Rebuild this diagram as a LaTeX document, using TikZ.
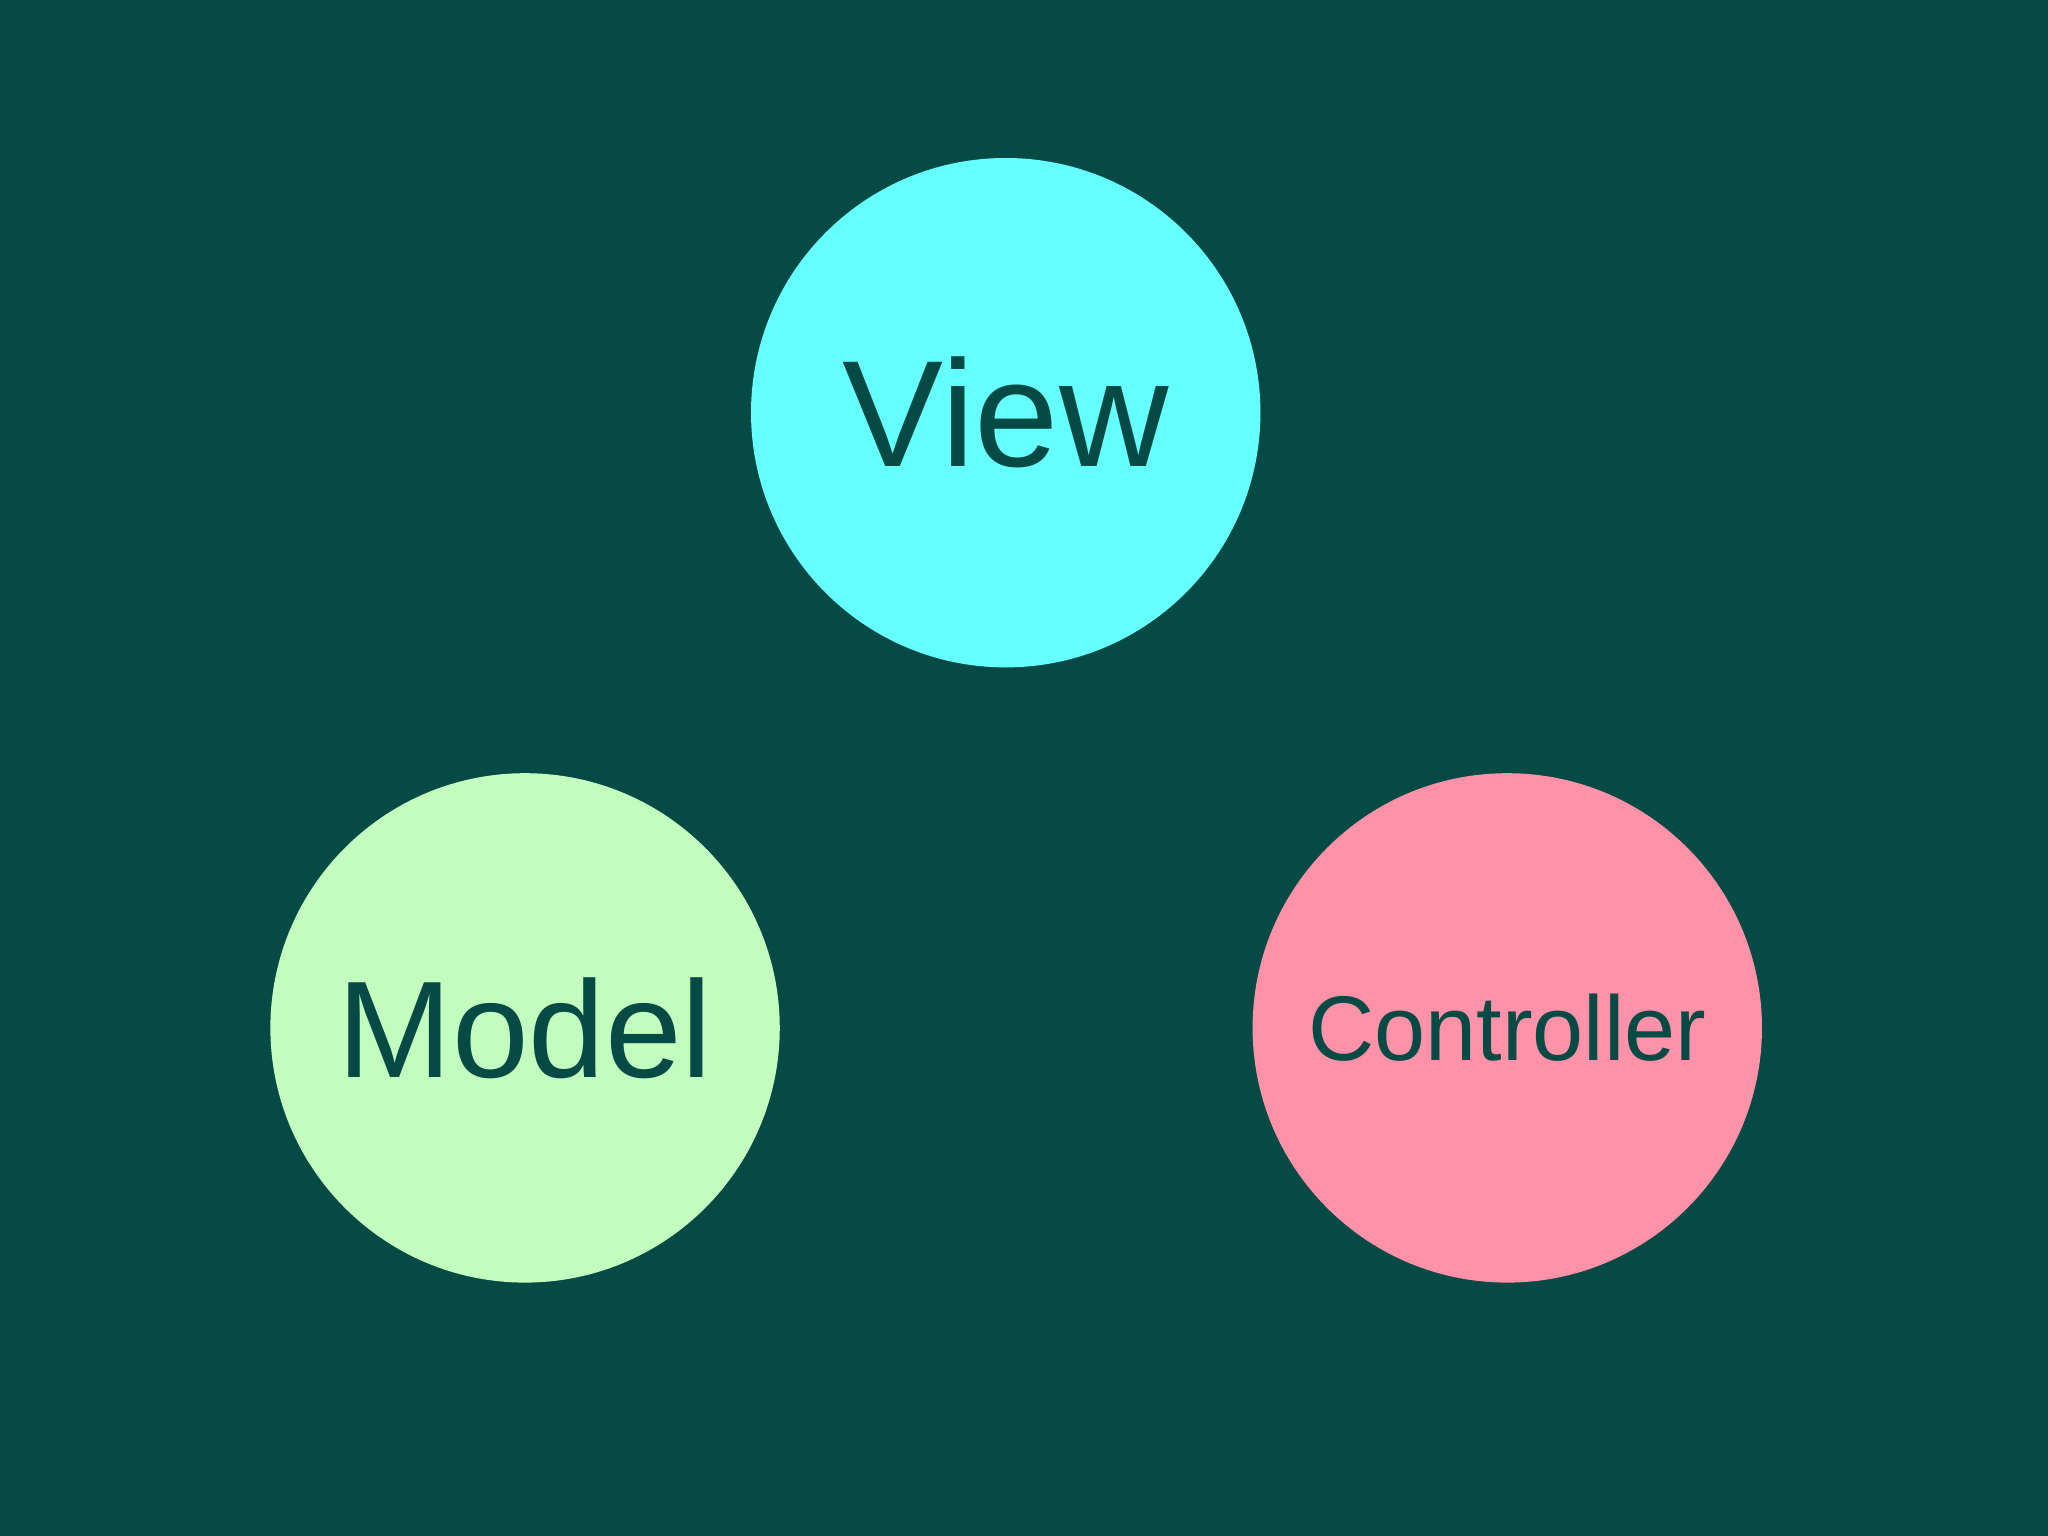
\documentclass[tikz,border=0pt]{standalone}
\usepackage{fontspec}
\setmainfont{Liberation Sans}
\definecolor{bg}{HTML}{064A45}
\definecolor{cv}{HTML}{66FFFF}
\definecolor{cm}{HTML}{C2FDBF}
\definecolor{cc}{HTML}{FF91A8}
\begin{document}
\begin{tikzpicture}
\tikzset{ball/.style={circle,minimum size=3.9cm,inner sep=0pt,text=bg}}
\fill[bg] (0,0) rectangle (15.68,11.76);
\useasboundingbox (0,0) rectangle (15.68,11.76);
\node[ball,fill=cv,font=\fontsize{33}{36}\selectfont] (view) at (7.70,8.60) {View};
\node[ball,fill=cm,font=\fontsize{30}{33}\selectfont] (model) at (4.02,3.89) {Model};
\node[ball,fill=cc,font=\fontsize{20}{24}\selectfont] (ctrl) at (11.54,3.89) {Controller};
\end{tikzpicture}
\end{document}
